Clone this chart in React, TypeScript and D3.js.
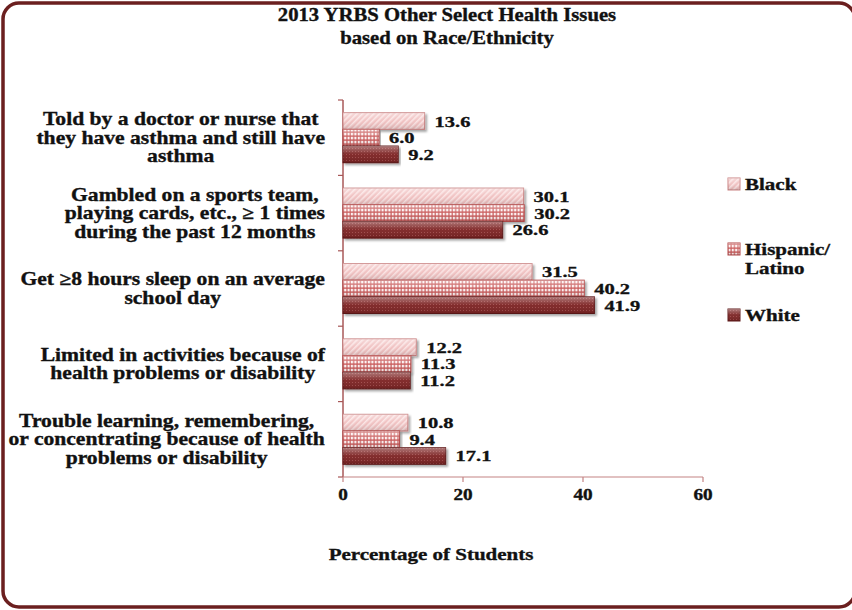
import React, { useEffect, useMemo } from "react";
import * as d3 from "d3";

const categories: string[][] = [
  ["Told by a doctor or nurse that", "they have asthma and still have", "asthma"],
  ["Gambled on a sports team,", "playing cards, etc., \u2265 1 times", "during the past 12 months"],
  ["Get \u22658 hours sleep on an average", "school day"],
  ["Limited in activities because of", "health problems or disability"],
  ["Trouble learning, remembering,", "or concentrating because of health", "problems or disability"],
];
const seriesNames = ["Black", "Hispanic/Latino", "White"];
const legendLabels: string[][] = [["Black"], ["Hispanic/", "Latino"], ["White"]];
const blackValues = [13.6, 30.1, 31.5, 12.2, 10.8];
const hispanicValues = [6.0, 30.2, 40.2, 11.3, 9.4];
const whiteValues = [9.2, 26.6, 41.9, 11.2, 17.1];
const xTicks = [0, 20, 40, 60];
const titleLines = ["2013 YRBS Other Select Health Issues", "based on Race/Ethnicity"];
const xAxisTitle = "Percentage of Students";

const SX = 1.2;
const FONT = '"Liberation Serif", "Times New Roman", serif';

const fills = ["url(#patBlack)", "url(#patHisp)", "url(#patWhite)"];
const strokes = ["#c98282", "#b24444", "#5e1818"];

function T(props: { x: number; y: number; size: number; anchor?: string; sx?: number; children: React.ReactNode }) {
  const { x, y, size, anchor = "start", sx = SX, children } = props;
  return (
    <text
      transform={`translate(${x},${y}) scale(${sx},1)`}
      fontFamily={FONT}
      fontWeight="bold"
      fontSize={size}
      textAnchor={anchor}
      fill="#111"
      stroke="#111"
      strokeWidth={0.35}
    >
      {children}
    </text>
  );
}

export default function App() {
  useEffect(() => {
    document.body.style.margin = "0";
  }, []);

  const W = 852;
  const H = 610;
  const x = d3.scaleLinear().domain([0, 60]).range([343, 703]);
  const catIdx = categories.map((_, i) => String(i));
  const yOuter = d3.scaleBand().domain(catIdx).range([100, 477]).paddingInner(0.337).paddingOuter(0.1685);
  const yInner = d3.scaleBand().domain(seriesNames).range([0, yOuter.bandwidth()]);
  const values = [blackValues, hispanicValues, whiteValues];

  const labelSize = 18;
  const widths = useMemo(() => {
    const c = document.createElement("canvas").getContext("2d");
    if (!c) return categories.map(() => 280);
    c.font = `bold ${labelSize}px ${FONT}`;
    return categories.map((lines) => d3.max(lines, (l) => c.measureText(l).width) as number);
  }, []);

  const step = yOuter.step();
  const bandTop = yOuter.range()[0];

  return (
    <svg width={W} height={H} style={{ position: "absolute", left: 0, top: 0, background: "#fff" }}>
      <defs>
        <pattern id="patBlack" width="4" height="4" patternUnits="userSpaceOnUse" patternTransform="rotate(45)">
          <rect width="4" height="4" fill="#f0c0c0" />
          <rect width="1.6" height="4" fill="#fbe4e4" />
        </pattern>
        <pattern id="patHisp" width="3.4" height="4" patternUnits="userSpaceOnUse">
          <rect width="3.4" height="4" fill="#c85656" />
          <rect x="0.7" y="0.8" width="2.2" height="2.6" fill="#fdf2f2" />
        </pattern>
        <pattern id="patWhite" width="3" height="3" patternUnits="userSpaceOnUse">
          <rect width="3" height="3" fill="#7c2424" />
          <rect x="1" y="1" width="1" height="1" fill="#a04848" />
        </pattern>
        <linearGradient id="gloss" x1="0" y1="0" x2="0" y2="1">
          <stop offset="0" stopColor="#fff" stopOpacity="0.4" />
          <stop offset="0.5" stopColor="#fff" stopOpacity="0.05" />
          <stop offset="1" stopColor="#000" stopOpacity="0.12" />
        </linearGradient>
        <filter id="shadow" x="-5%" y="-30%" width="110%" height="170%">
          <feDropShadow dx="2" dy="2" stdDeviation="1.2" floodColor="#000" floodOpacity="0.35" />
        </filter>
      </defs>

      <rect x={3} y={3} width={852} height={H - 6} rx={16} fill="#fff" stroke="#6b1f1f" strokeWidth={3.5} />

      {titleLines.map((t, i) => (
        <T key={i} x={447} y={21 + i * 23} size={18} anchor="middle" sx={1.15}>
          {t}
        </T>
      ))}

      {/* axes */}
      <line x1={x(0)} x2={x(0)} y1={bandTop} y2={477} stroke="#a85858" strokeWidth={1.5} />
      {d3.range(categories.length + 1).map((i) => (
        <line key={i} x1={x(0) - 5} x2={x(0)} y1={bandTop + i * step} y2={bandTop + i * step} stroke="#a85858" strokeWidth={1.2} />
      ))}
      <line x1={x(0)} x2={x(60)} y1={477} y2={477} stroke="#c48484" strokeWidth={1.2} />
      {xTicks.map((t) => (
        <g key={t}>
          <line x1={x(t)} x2={x(t)} y1={477} y2={482} stroke="#c48484" strokeWidth={1.2} />
          <T x={x(t)} y={500} size={16} anchor="middle">
            {t}
          </T>
        </g>
      ))}

      {/* bars */}
      {categories.map((lines, ci) => {
        const y0 = yOuter(String(ci)) as number;
        return (
          <g key={ci}>
            {seriesNames.map((s, si) => {
              const v = values[si][ci];
              const by = y0 + (yInner(s) as number);
              const bh = yInner.bandwidth();
              const bw = x(v) - x(0);
              return (
                <g key={s}>
                  <g filter="url(#shadow)">
                    <rect x={x(0)} y={by} width={bw} height={bh} fill={fills[si]} stroke={strokes[si]} strokeWidth={1} />
                  </g>
                  <rect x={x(0)} y={by} width={bw} height={bh} fill="url(#gloss)" />
                </g>
              );
            })}
          </g>
        );
      })}

      {/* value labels */}
      {categories.map((lines, ci) => {
        const y0 = yOuter(String(ci)) as number;
        return seriesNames.map((s, si) => {
          const v = values[si][ci];
          const by = y0 + (yInner(s) as number);
          const bh = yInner.bandwidth();
          return (
            <T key={`${ci}-${s}`} x={x(v) + 10} y={by + bh / 2 + 5.5} size={15.5} sx={1.32}>
              {v.toFixed(1)}
            </T>
          );
        });
      })}

      {/* category labels */}
      {categories.map((lines, ci) => {
        const cy = (yOuter(String(ci)) as number) + yOuter.bandwidth() / 2;
        const cx = 325 - (widths[ci] * SX) / 2;
        const lh = 18.5;
        return lines.map((l, li) => (
          <T key={`${ci}-${li}`} x={cx} y={cy + (li - (lines.length - 1) / 2) * lh + 6} size={labelSize} anchor="middle">
            {l}
          </T>
        ));
      })}

      {/* legend */}
      {legendLabels.map((lines, i) => {
        const ys = [184, 249, 315];
        const cy = ys[i];
        return (
          <g key={i}>
            <rect x={728} y={cy - 6} width={12} height={12} fill={fills[i]} stroke={strokes[i]} strokeWidth={1} />
            <rect x={728} y={cy - 6} width={12} height={12} fill="url(#gloss)" />
            {lines.map((l, li) => (
              <T key={li} x={745} y={cy + 6 + li * 19} size={17.5}>
                {l}
              </T>
            ))}
          </g>
        );
      })}

      <T x={431} y={560} size={17.5} anchor="middle">
        {xAxisTitle}
      </T>
    </svg>
  );
}
